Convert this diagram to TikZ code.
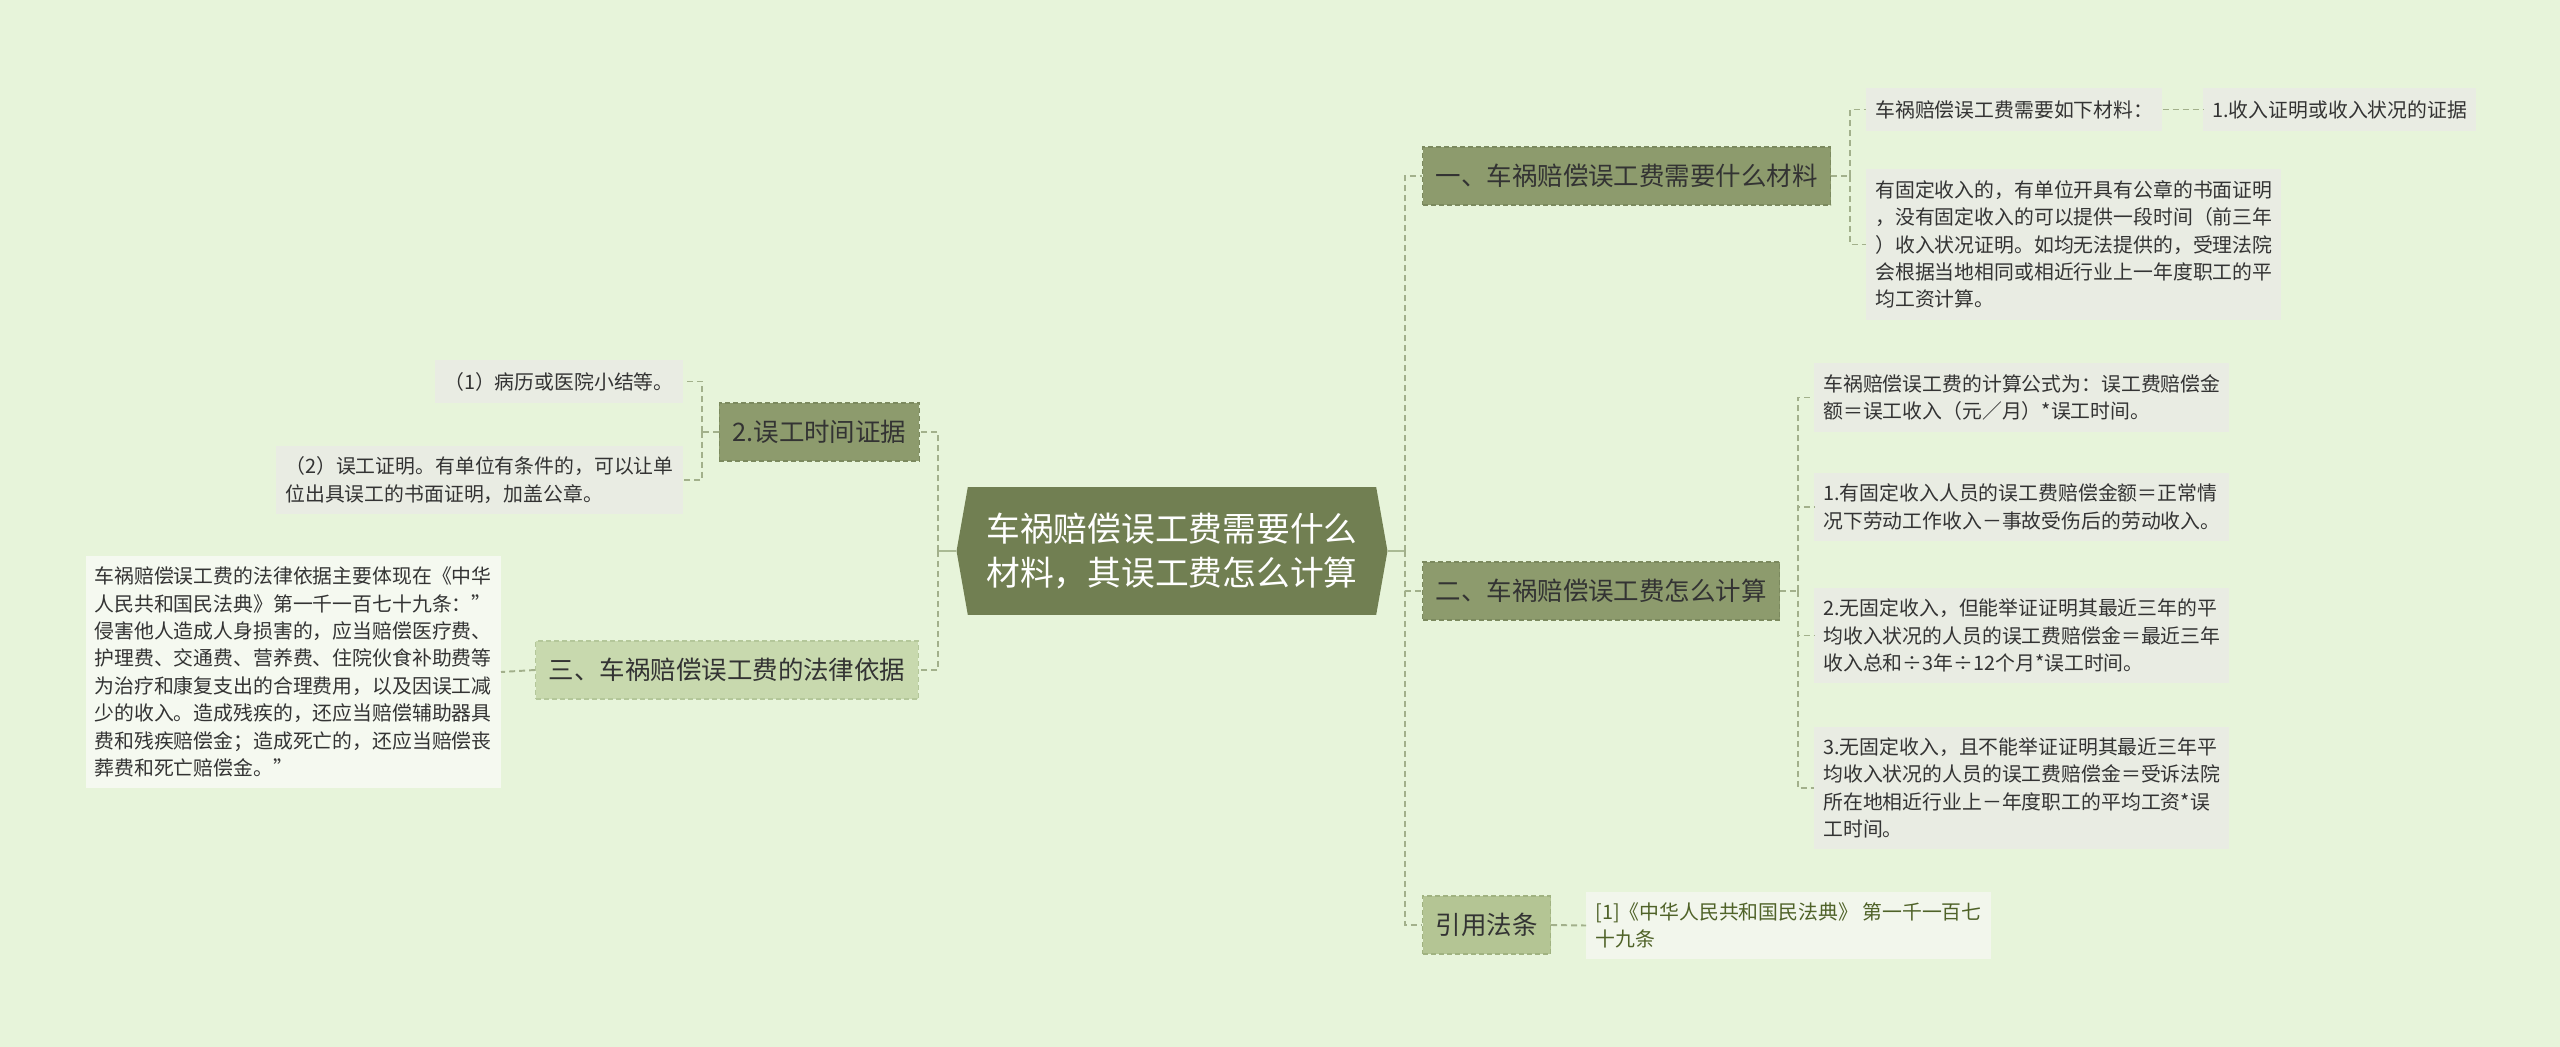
\documentclass[tikz,border=0pt]{standalone}
\usepackage{fontspec}
\setmainfont{Noto Sans CJK SC}
\usepackage{tikz}
\usetikzlibrary{shapes.symbols}
\definecolor{BgGreen}{HTML}{E7F4DA}
\definecolor{RootOlive}{HTML}{717F52}
\definecolor{TopicDark}{HTML}{8D9B6D}
\definecolor{TopicEdge}{HTML}{7B895E}
\definecolor{TopicLight}{HTML}{C8D9AE}
\definecolor{LightEdge}{HTML}{B4C79A}
\definecolor{CiteFill}{HTML}{B4C594}
\definecolor{CiteEdge}{HTML}{A0B280}
\definecolor{LeafGray}{HTML}{E9ECE3}
\definecolor{LawWhite}{HTML}{F5F9F0}
\definecolor{CiteLeaf}{HTML}{F2F6EC}
\definecolor{CiteText}{HTML}{4F6228}
\definecolor{TextGray}{HTML}{333333}
\definecolor{LinkGreen}{HTML}{A2B08B}
\definecolor{StemGreen}{HTML}{AABA94}

\begin{document}
\begin{tikzpicture}[
  x=0.02cm,y=-0.02cm,
  root/.style={signal,signal to=west and east,signal pointer angle=160,
               fill=RootOlive,text=white,align=center,inner sep=0pt,
               minimum width=8.62cm,minimum height=2.56cm,
               font=\fontsize{19.2}{25}\selectfont},
  topic/.style={draw=TopicEdge,dash pattern=on 0.1cm off 0.06cm,line width=0.7pt,
                fill=TopicDark,text=TextGray,inner xsep=0.26cm,
                minimum height=1.16cm,font=\fontsize{14.5}{18}\selectfont},
  topiclight/.style={topic,draw=LightEdge,fill=TopicLight},
  topiccite/.style={topic,draw=CiteEdge,fill=CiteFill},
  leaf/.style={fill=LeafGray,text=TextGray,align=left,inner xsep=0.18cm,
               inner ysep=0.22cm,font=\fontsize{11.3}{15.6}\selectfont},
  lawleaf/.style={leaf,fill=LawWhite},
  citeleaf/.style={leaf,fill=CiteLeaf,text=CiteText},
  link/.style={draw=LinkGreen,line width=1.1pt,dash pattern=on 0.12cm off 0.08cm},
  stem/.style={draw=StemGreen,line width=1.6pt}
]
\fill[BgGreen] (0,0) rectangle (2560,1047);
\useasboundingbox (0,0) rectangle (2560,1047);

% Central topic and main branches
\node[root] (root) at (1172,551) {车祸赔偿误工费需要什么\\材料，其误工费怎么计算};
\node[topic,anchor=west] (need) at (1422,176) {一、车祸赔偿误工费需要什么材料};
\node[topic,anchor=west] (calc) at (1422,591) {二、车祸赔偿误工费怎么计算};
\node[topiccite,anchor=west] (cite) at (1422,925) {引用法条};
\node[topic,anchor=east] (proof) at (920,432) {2.误工时间证据};
\node[topiclight,anchor=east] (basis) at (919,670) {三、车祸赔偿误工费的法律依据};

\coordinate (rj) at (1405,551);
\coordinate (lj) at (938,551);
\draw[stem] (root.east) -- (rj);
\draw[stem] (root.west) -- (lj);
\foreach \topic in {need,calc,cite}
  \draw[link] (rj) |- (\topic.west);
\foreach \topic in {proof,basis}
  \draw[link] (lj) |- (\topic.east);

% Materials
\node[leaf,anchor=west,minimum height=0.86cm] (needhead) at (1866,109.5) {车祸赔偿误工费需要如下材料：};
\node[leaf,anchor=west,minimum height=0.86cm] (needitem) at (2203,109.5) {1.收入证明或收入状况的证据};
\node[leaf,anchor=west] (neednote) at (1866,244.5)
  {有固定收入的，有单位开具有公章的书面证明\\，没有固定收入的可以提供一段时间（前三年\\）收入状况证明。如均无法提供的，受理法院\\会根据当地相同或相近行业上一年度职工的平\\均工资计算。};

\coordinate (nj) at (1850,176);
\draw[link] (need.east) -- (nj);
\draw[link] (nj) |- (needhead.west);
\draw[link] (nj) |- (neednote.west);
\draw[link] (needhead.east) -- (needitem.west);

% Calculation
\node[leaf,anchor=west] (formula) at (1814,397.5)
  {车祸赔偿误工费的计算公式为：误工费赔偿金\\额＝误工收入（元／月）*误工时间。};
\node[leaf,anchor=west] (fixed) at (1814,507)
  {1.有固定收入人员的误工费赔偿金额＝正常情\\况下劳动工作收入－事故受伤后的劳动收入。};
\node[leaf,anchor=west] (avg) at (1814,635.5)
  {2.无固定收入，但能举证证明其最近三年的平\\均收入状况的人员的误工费赔偿金＝最近三年\\收入总和÷3年÷12个月*误工时间。};
\node[leaf,anchor=west] (local) at (1814,788)
  {3.无固定收入，且不能举证证明其最近三年平\\均收入状况的人员的误工费赔偿金＝受诉法院\\所在地相近行业上－年度职工的平均工资*误\\工时间。};

\coordinate (cj) at (1798,591);
\draw[link] (calc.east) -- (cj);
\foreach \leaf in {formula,fixed,avg,local}
  \draw[link] (cj) |- (\leaf.west);

% Cited law
\node[citeleaf,anchor=west] (citetext) at (1586,925.5)
  {[1]《中华人民共和国民法典》 第一千一百七\\十九条};
\draw[link] (cite.east) -- (citetext.west);

% Proof of lost time
\node[leaf,anchor=east,minimum height=0.86cm] (record) at (683,381.5) {（1）病历或医院小结等。};
\node[leaf,anchor=east] (cert) at (683,480)
  {（2）误工证明。有单位有条件的，可以让单\\位出具误工的书面证明，加盖公章。};

\coordinate (pj) at (702,432);
\draw[link] (proof.west) -- (pj);
\draw[link] (pj) |- (record.east);
\draw[link] (pj) |- (cert.east);

% Legal basis
\node[lawleaf,anchor=east] (lawtext) at (501,672)
  {车祸赔偿误工费的法律依据主要体现在《中华\\人民共和国民法典》第一千一百七十九条："\\侵害他人造成人身损害的，应当赔偿医疗费、\\护理费、交通费、营养费、住院伙食补助费等\\为治疗和康复支出的合理费用，以及因误工减\\少的收入。造成残疾的，还应当赔偿辅助器具\\费和残疾赔偿金；造成死亡的，还应当赔偿丧\\葬费和死亡赔偿金。"};
\draw[link] (basis.west) -- (lawtext.east);
\end{tikzpicture}
\end{document}
